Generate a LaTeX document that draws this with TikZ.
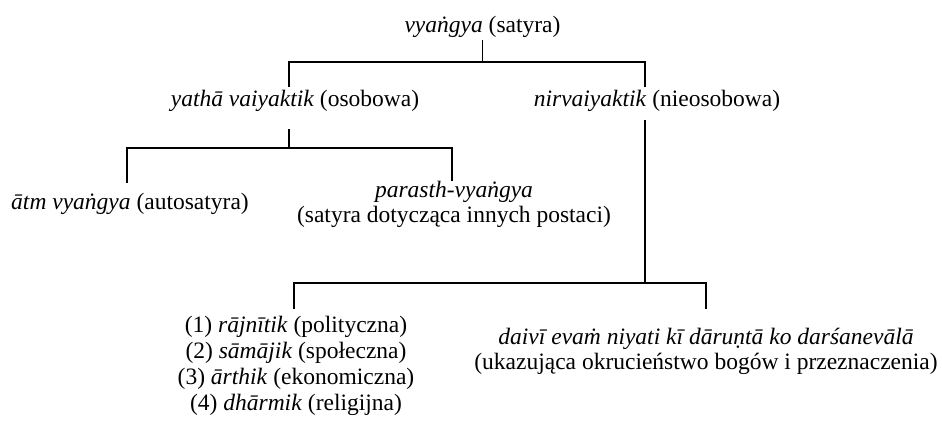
\documentclass[tikz,border=0pt]{standalone}
\usepackage{fontspec}
\setmainfont{Liberation Serif}
\usetikzlibrary{positioning, calc}

\begin{document}
\begin{tikzpicture}[
    x=1pt, y=-1pt,
    % Text styles for the categories of the tree
    term_node/.style={anchor=base, inner xsep=0pt, inner ysep=3pt, font=\fontsize{23.5}{25.7}\selectfont},
    one_line/.style={term_node, text height=16pt, text depth=5pt},
    many_line/.style={term_node, align=center},
    branch/.style={line width=1.2pt}
]
    \useasboundingbox (0,0) rectangle (942,429);

    % --- Top level ---
    \node[one_line] (root) at (482.5,32) {\textit{vyaṅgya} (satyra)};

    % --- Second level ---
    \node[one_line] (yatha) at (295,106) {\textit{yathā vaiyaktik} (osobowa)};
    \node[one_line] (nirv) at (657,106) {\textit{nirvaiyaktik} (nieosobowa)};

    % --- Third level, left branch (base = last line) ---
    \node[one_line, outer ysep=7pt] (atm) at (130,209) {\textit{ātm vyaṅgya} (autosatyra)};
    \node[many_line, inner ysep=0pt] (parasth) at (454,222.7) {\textit{parasth-vyaṅgya}\\(satyra dotycząca innych postaci)};

    % --- Third level, right branch ---
    \node[many_line, outer ysep=5pt] (list) at (296,410) {(1) \textit{rājnītik} (polityczna)\\(2) \textit{sāmājik} (społeczna)\\(3) \textit{ārthik} (ekonomiczna)\\(4) \textit{dhārmik} (religijna)};
    \node[many_line, outer ysep=16pt] (daivi) at (706,369.7) {\textit{daivī evaṁ niyati kī dāruṇtā ko darśanevālā}\\(ukazująca okrucieństwo bogów i przeznaczenia)};

    % --- Junctions ---
    \coordinate (j_0) at (482.5,62);
    \coordinate (j_1) at (289,148);
    \coordinate (j_2) at (645,283);

    % --- Branches ---
    \draw[branch] (root.south) -- (j_0);
    \draw[branch] ([xshift=-6pt]yatha.north) |- (j_0) -| ([xshift=-12pt]nirv.north);

    \draw[branch, shorten <=15pt] ([xshift=-6pt]yatha.south) -- (j_1);
    \draw[branch] ([xshift=-3pt]atm.north) |- (j_1) -| ([xshift=-2pt]parasth.north);

    \draw[branch, shorten <=6pt] ([xshift=-12pt]nirv.south) -- (j_2);
    \draw[branch] ([xshift=-2pt]list.north) |- (j_2) -| (daivi.north);

\end{tikzpicture}
\end{document}
